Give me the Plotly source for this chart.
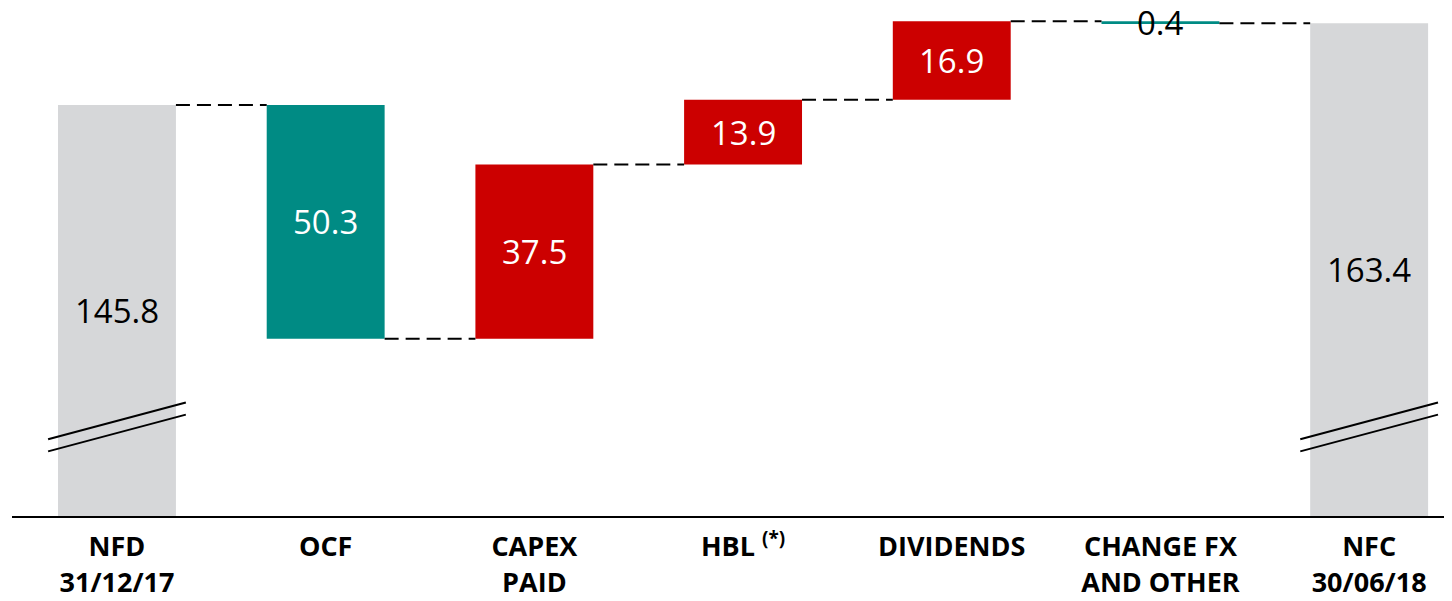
import plotly.graph_objects as go

# ---- data ----
categories = ["NFD<br>31/12/17", "OCF", "CAPEX<br>PAID", "HBL <sup>(*)</sup>", "DIVIDENDS",
              "CHANGE FX<br>AND OTHER", "NFC<br>30/06/18"]
start_value = 145.8
changes = [-50.3, 37.5, 13.9, 16.9, -0.4]   # OCF, CAPEX, HBL, DIVIDENDS, FX
end_value = 163.4
labels = ["145.8", "50.3", "37.5", "13.9", "16.9", "0.4", "163.4"]

# ---- style ----
Y_MIN, Y_MAX = 57.4, 166.66
BAR_W = 0.565
GREY, TEAL, RED = "#D6D7D9", "#008B84", "#CC0000"
VAL_FONT = "Open Sans"
CAT_FONT = "Open Sans"

# ---- compute bars ----
bases, heights, colors, levels = [], [], [], []
bases.append(Y_MIN); heights.append(start_value - Y_MIN); colors.append(GREY)
level = start_value
levels.append(level)
for c in changes:
    new = level + c
    bases.append(min(level, new)); heights.append(abs(c))
    colors.append(TEAL if c < 0 else RED)
    level = new
    levels.append(level)
bases.append(Y_MIN); heights.append(end_value - Y_MIN); colors.append(GREY)
levels.append(end_value)

x = list(range(len(categories)))
fig = go.Figure()
fig.add_trace(go.Bar(x=x, y=heights, base=bases, marker=dict(color=colors, line=dict(width=0)),
                     width=BAR_W, hoverinfo="skip"))

# connectors
shapes = []
for i in range(len(categories) - 1):
    lv = levels[i]
    shapes.append(dict(type="line", xref="x", yref="y", x0=i + BAR_W / 2, x1=i + 1 - BAR_W / 2,
                       y0=lv, y1=lv, line=dict(color="black", width=2, dash="14px,7px")))

# break marks on the grey bars
for i in (0, len(categories) - 1):
    for dy in (0, -2.6):
        shapes.append(dict(type="line", xref="x", yref="y", x0=i - 0.33, x1=i + 0.33,
                           y0=73.9 + dy, y1=81.8 + dy, line=dict(color="black", width=2)))

# value labels
annotations = []
for i in range(len(categories)):
    lo, hi = bases[i], bases[i] + heights[i]
    mid = (lo + hi) / 2
    col = "black" if colors[i] == GREY else "white"
    if heights[i] < 2:
        col = "black"
    annotations.append(dict(x=i, y=mid, xref="x", yref="y", text=labels[i], showarrow=False,
                            font=dict(family=VAL_FONT, size=33, color=col)))

fig.update_layout(
    width=1444, height=593,
    margin=dict(l=4, r=0, t=0, b=85),
    plot_bgcolor="white", paper_bgcolor="white",
    showlegend=False, shapes=shapes, annotations=annotations,
    xaxis=dict(range=[-0.503, 6.397], tickvals=x,
               ticktext=["<b>" + c.replace("<br>", "</b><br><b>") + "</b>" for c in categories],
               tickfont=dict(family=CAT_FONT, size=27, color="black"),
               showline=True, linecolor="black", linewidth=2, showgrid=False, zeroline=False,
               ticks="outside", ticklen=6, tickcolor="white"),
    yaxis=dict(range=[Y_MIN, Y_MAX], visible=False, showgrid=False, zeroline=False),
)

fig.write_html("out.html")
